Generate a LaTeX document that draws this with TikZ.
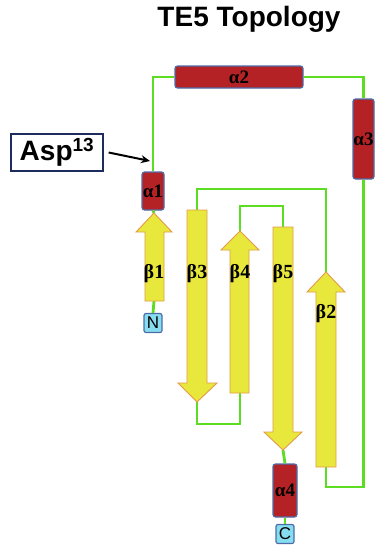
\documentclass[tikz,border=0pt]{standalone}
\usepackage{fontspec}
\setmainfont{Liberation Serif}
\newfontfamily\sansbold{Liberation Sans}[BoldFont={Liberation Sans Bold}]
\usetikzlibrary{arrows.meta}
\definecolor{helixred}{HTML}{B52225}
\definecolor{helixedge}{HTML}{4E6CA8}
\definecolor{strandfill}{HTML}{E8E83C}
\definecolor{strandedge}{HTML}{E29A48}
\definecolor{loopgreen}{HTML}{5CDD22}
\definecolor{termfill}{HTML}{86DDF0}
\definecolor{boxedge}{HTML}{1E2B5E}
\tikzset{
  helix/.style={draw=helixedge, line width=1.2pt, fill=helixred, rounded corners=2.5pt, inner sep=0pt, font=\bfseries\fontsize{19}{19}\selectfont},
  strand/.style={draw=strandedge, line width=0.9pt, fill=strandfill},
  slabel/.style={font=\bfseries\fontsize{20}{20}\selectfont},
  loopline/.style={draw=loopgreen, line width=2.8pt},
  term/.style={draw=helixedge, line width=1.2pt, fill=termfill, rounded corners=2pt, inner sep=0pt, minimum width=18pt, minimum height=19pt, font=\sansbold\fontsize{17}{17}\selectfont},
}
\begin{document}
\begin{tikzpicture}[x=1pt,y=-1pt]
\useasboundingbox (0,0) rectangle (378,546);
% title
\node[font=\sansbold\bfseries\fontsize{28}{28}\selectfont] (title) at (249,19) {TE5 Topology};
% Asp box
\node[draw=boxedge, line width=1.3pt, minimum width=92pt, minimum height=37pt, inner sep=0pt, font=\sansbold\bfseries\fontsize{28}{28}\selectfont] (asp) at (57,152.5) {Asp\textsuperscript{\fontsize{19}{19}\selectfont 13}};
% helices
\node[helix, minimum width=22pt, minimum height=38pt] (a1) at (153,191) {α1};
\node[helix, minimum width=128pt, minimum height=22pt] (a2) at (239,77) {α2};
\node[helix, minimum width=21pt, minimum height=80pt] (a3) at (363.5,139) {α3};
\node[helix, minimum width=24pt, minimum height=53pt] (a4) at (285,490.5) {α4};
% termini
\node[term] (N) at (153,323) {N};
\node[term] (C) at (285,534) {C};
% strand coordinates
\coordinate (b1t) at (154,213); \coordinate (b1b) at (154,301);
\coordinate (b3t) at (197,210); \coordinate (b3b) at (197,402);
\coordinate (b4t) at (240,231); \coordinate (b4b) at (240,393);
\coordinate (b5t) at (283,227); \coordinate (b5b) at (283,450);
\coordinate (b2t) at (326,272); \coordinate (b2b) at (326,467);
% loops
\draw[loopline] (N.north) -- (b1b);
\draw[loopline] (b1t) -- (a1.south);
\draw[loopline] (a1.north) |- (a2.west);
\draw[loopline] (a2.east) -| (a3.north);
\draw[loopline] (a3.south) |- (326,487) -- (b2b);
\draw[loopline] (b2t) |- (197,189) -- (b3t);
\draw[loopline] (b3b) |- (240,424) -- (b4b);
\draw[loopline] (b4t) |- (283,206) -- (b5t);
\draw[loopline] (b5b) -- (a4.north);
\draw[loopline] (a4.south) -- (C.north);
% strands (up arrows)
\draw[strand] (145,301) -- (145,232) -- (136,232) -- (b1t) -- (172,232) -- (164,232) -- (164,301) -- cycle;
\draw[strand] (230,393) -- (230,250) -- (221,250) -- (b4t) -- (259,250) -- (249,250) -- (249,393) -- cycle;
\draw[strand] (316,467) -- (316,292) -- (307,292) -- (b2t) -- (345,292) -- (336,292) -- (336,467) -- cycle;
% strands (down arrows)
\draw[strand] (187,210) -- (187,383) -- (178,383) -- (b3b) -- (217,383) -- (207,383) -- (207,210) -- cycle;
\draw[strand] (273,227) -- (273,432) -- (264,432) -- (b5b) -- (302,432) -- (293,432) -- (293,227) -- cycle;
% strand labels
\node[slabel] (lb1) at (154,274) {β1};
\node[slabel] (lb3) at (197,274) {β3};
\node[slabel] (lb4) at (240,274) {β4};
\node[slabel] (lb5) at (283,274) {β5};
\node[slabel] (lb2) at (326,314) {β2};
% pointer arrow
\coordinate (aspTip) at (150,161);
\draw[line width=2pt, -{Stealth[length=9pt,width=8pt]}] (asp.east) ++(5,0) -- (aspTip);
\end{tikzpicture}
\end{document}
